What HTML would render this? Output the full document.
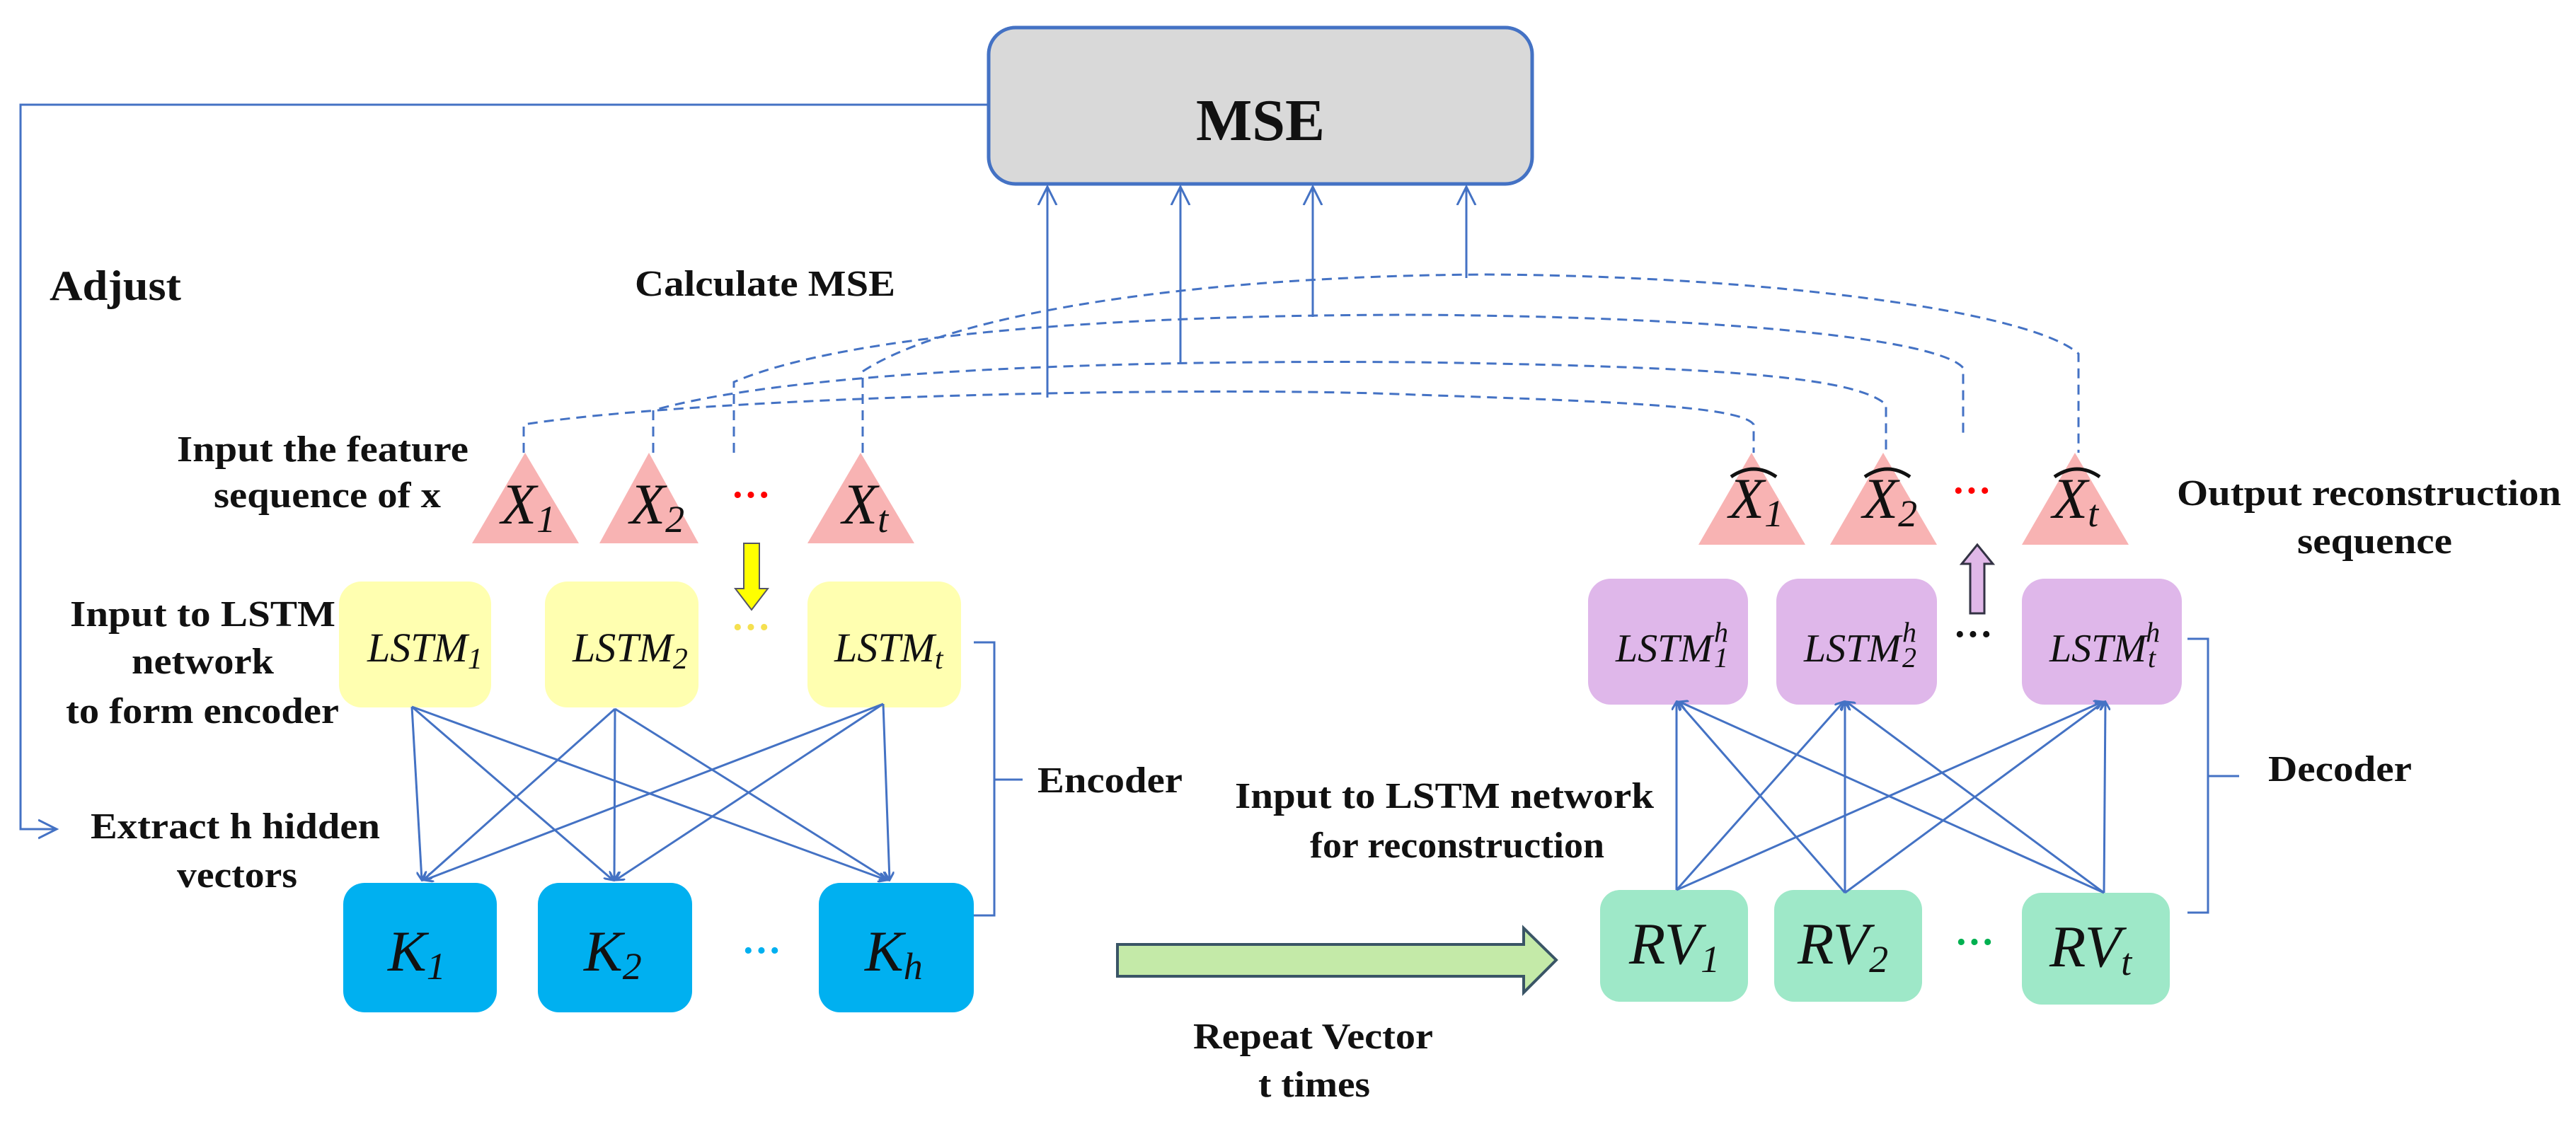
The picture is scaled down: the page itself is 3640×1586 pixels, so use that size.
<!DOCTYPE html>
<html><head><meta charset="utf-8"><style>
html,body{margin:0;padding:0;background:#fff}
svg{display:block}
.t{font-family:"Liberation Serif",serif;font-weight:bold;fill:#111}
.m{font-family:"Liberation Serif",serif;font-style:italic;fill:#111}
</style></head><body>
<svg width="3640" height="1586" viewBox="0 0 3640 1586" xmlns="http://www.w3.org/2000/svg">
<defs>
<marker id="a" markerWidth="14" markerHeight="14" refX="12" refY="7" orient="auto" markerUnits="userSpaceOnUse">
<path d="M0,0 L12,7 L0,14" fill="none" stroke="#4472c4" stroke-width="3"/></marker>
<marker id="b" markerWidth="30" markerHeight="30" refX="26" refY="15" orient="auto" markerUnits="userSpaceOnUse">
<path d="M0,2 L26,15 L0,28" fill="none" stroke="#4472c4" stroke-width="3"/></marker>
</defs>
<rect x="1397" y="39" width="768" height="221" rx="38" fill="#d9d9d9" stroke="#4472c4" stroke-width="5"/>
<text class="t" x="1781" y="198" font-size="84" text-anchor="middle">MSE</text>
<path d="M1397,148 H29 V1172 H80" fill="none" stroke="#4472c4" stroke-width="3" marker-end="url(#b)"/>
<g stroke="#4472c4" stroke-width="3" marker-end="url(#b)">
<line x1="1480" y1="562" x2="1480" y2="264"/>
<line x1="1668" y1="512" x2="1668" y2="264"/>
<line x1="1855" y1="448" x2="1855" y2="264"/>
<line x1="2072" y1="393" x2="2072" y2="264"/>
</g>
<g fill="none" stroke="#4472c4" stroke-width="3" stroke-dasharray="14,9">
<path d="M740,640 V600 C1000,560 1700,545 2000,558 C2300,568 2460,575 2478,600 V640"/>
<path d="M923,640 V580 C1100,530 1500,508 2000,512 C2400,518 2620,530 2665,572 V640"/>
<path d="M1037,640 V540 C1200,470 1600,445 2000,445 C2450,448 2740,480 2774,520 V615"/>
<path d="M1219,640 V525 C1350,440 1700,390 2100,388 C2500,390 2870,440 2937,500 V640"/>
</g>
<g fill="#f8b3b3">
<path d="M742,640 L818,768 H667 Z"/>
<path d="M917,640 L987,768 H847 Z"/>
<path d="M1216,640 L1292,768 H1141 Z"/>
<path d="M2475,640 L2551,770 H2400 Z"/>
<path d="M2661,640 L2737,770 H2586 Z"/>
<path d="M2932,640 L3008,770 H2857 Z"/>
</g>
<g class="m" font-size="82">
<text x="708" y="740">X<tspan font-size="54" dy="12">1</tspan></text>
<text x="890" y="740">X<tspan font-size="54" dy="12">2</tspan></text>
<text x="1190" y="740">X<tspan font-size="54" dy="12">t</tspan></text>
<text x="2443" y="732">X<tspan font-size="54" dy="12">1</tspan></text>
<text x="2632" y="732">X<tspan font-size="54" dy="12">2</tspan></text>
<text x="2900" y="732">X<tspan font-size="54" dy="12">t</tspan></text>
</g>
<g fill="none" stroke="#111" stroke-width="5">
<path d="M2446,674 Q2478,652 2510,674"/>
<path d="M2635,674 Q2667,652 2699,674"/>
<path d="M2903,674 Q2935,652 2967,674"/>
</g>
<g fill="#ff0000" font-size="56" font-weight="bold" font-family="Liberation Serif,serif">
<text x="1033" y="718">···</text>
<text x="2758" y="712">···</text>
</g>
<path d="M1051,768 H1073 V832 H1085 L1062,862 L1039,832 H1051 Z" fill="#ffff00" stroke="#556" stroke-width="2"/>
<path d="M2784,867 H2804 V797 H2816 L2794,770 L2772,797 H2784 Z" fill="#e0b8e8" stroke="#334" stroke-width="3"/>
<g fill="#ffffb0">
<rect x="479" y="822" width="215" height="178" rx="32"/>
<rect x="770" y="822" width="217" height="178" rx="32"/>
<rect x="1141" y="822" width="217" height="178" rx="32"/>
</g>
<g class="m" font-size="58">
<text x="519" y="935">LSTM<tspan font-size="42" dy="10">1</tspan></text>
<text x="809" y="935">LSTM<tspan font-size="42" dy="10">2</tspan></text>
<text x="1179" y="935">LSTM<tspan font-size="42" dy="10">t</tspan></text>
</g>
<text x="1033" y="905" font-size="56" font-weight="bold" fill="#f5e050" font-family="Liberation Serif,serif">···</text>
<g fill="#dfb7ea">
<rect x="2244" y="818" width="226" height="178" rx="32"/>
<rect x="2510" y="818" width="227" height="178" rx="32"/>
<rect x="2857" y="818" width="226" height="178" rx="32"/>
</g>
<g class="m" font-size="56">
<text x="2283" y="935">LSTM<tspan font-size="40" dx="2" dy="8">1</tspan><tspan font-size="40" dx="-20" dy="-36">h</tspan></text>
<text x="2549" y="935">LSTM<tspan font-size="40" dx="2" dy="8">2</tspan><tspan font-size="40" dx="-20" dy="-36">h</tspan></text>
<text x="2896" y="935">LSTM<tspan font-size="40" dx="2" dy="8">t</tspan><tspan font-size="40" dx="-14" dy="-36">h</tspan></text>
</g>
<text x="2760" y="915" font-size="56" font-weight="bold" fill="#111" font-family="Liberation Serif,serif">···</text>
<g fill="#00b0f0">
<rect x="485" y="1248" width="217" height="183" rx="30"/>
<rect x="760" y="1248" width="218" height="183" rx="30"/>
<rect x="1157" y="1248" width="219" height="183" rx="30"/>
</g>
<g class="m" font-size="82">
<text x="548" y="1372">K<tspan font-size="54" dy="12">1</tspan></text>
<text x="825" y="1372">K<tspan font-size="54" dy="12">2</tspan></text>
<text x="1222" y="1372">K<tspan font-size="54" dy="12">h</tspan></text>
</g>
<text x="1048" y="1362" font-size="56" font-weight="bold" fill="#00b0f0" font-family="Liberation Serif,serif">···</text>
<g fill="#9ee8c8">
<rect x="2261" y="1258" width="209" height="158" rx="28"/>
<rect x="2507" y="1258" width="209" height="158" rx="28"/>
<rect x="2857" y="1262" width="209" height="158" rx="28"/>
</g>
<g class="m" font-size="84">
<text x="2302" y="1362">RV<tspan font-size="54" dy="12">1</tspan></text>
<text x="2540" y="1362">RV<tspan font-size="54" dy="12">2</tspan></text>
<text x="2896" y="1366">RV<tspan font-size="54" dy="12">t</tspan></text>
</g>
<text x="2762" y="1350" font-size="56" font-weight="bold" fill="#00b050" font-family="Liberation Serif,serif">···</text>
<g stroke="#4472c4" stroke-width="3" marker-end="url(#a)">
<line x1="582" y1="999" x2="596" y2="1244"/>
<line x1="582" y1="999" x2="866" y2="1244"/>
<line x1="582" y1="999" x2="1253" y2="1244"/>
<line x1="869" y1="1002" x2="598" y2="1244"/>
<line x1="869" y1="1002" x2="868" y2="1244"/>
<line x1="869" y1="1002" x2="1255" y2="1244"/>
<line x1="1248" y1="995" x2="600" y2="1244"/>
<line x1="1248" y1="995" x2="870" y2="1244"/>
<line x1="1248" y1="995" x2="1257" y2="1244"/>
</g>
<g stroke="#4472c4" stroke-width="3" marker-end="url(#a)">
<line x1="2369" y1="1258" x2="2369" y2="992"/>
<line x1="2369" y1="1258" x2="2605" y2="992"/>
<line x1="2369" y1="1258" x2="2971" y2="992"/>
<line x1="2607" y1="1262" x2="2371" y2="992"/>
<line x1="2607" y1="1262" x2="2607" y2="992"/>
<line x1="2607" y1="1262" x2="2973" y2="992"/>
<line x1="2973" y1="1262" x2="2373" y2="992"/>
<line x1="2973" y1="1262" x2="2609" y2="992"/>
<line x1="2973" y1="1262" x2="2975" y2="992"/>
</g>
<path d="M1376,908 H1405 V1294 H1376 M1405,1102 H1445" fill="none" stroke="#4472c4" stroke-width="3"/>
<path d="M3091,903 H3120 V1290 H3091 M3120,1097 H3164" fill="none" stroke="#4472c4" stroke-width="3"/>
<path d="M1579,1335 H2153 V1312 L2199,1357 L2153,1403 V1380 H1579 Z" fill="#c4eaa8" stroke="#3a5566" stroke-width="4"/>
<g class="t" font-size="52">
<text x="70" y="424" font-size="60" textLength="186" lengthAdjust="spacingAndGlyphs">Adjust</text>
<text x="897" y="418" textLength="368" lengthAdjust="spacingAndGlyphs">Calculate MSE</text>
<text x="250" y="652" textLength="412" lengthAdjust="spacingAndGlyphs">Input the feature</text>
<text x="302" y="717" textLength="321" lengthAdjust="spacingAndGlyphs">sequence of x</text>
<text x="99" y="885" textLength="375" lengthAdjust="spacingAndGlyphs">Input to LSTM</text>
<text x="186" y="952" textLength="201" lengthAdjust="spacingAndGlyphs">network</text>
<text x="93" y="1022" textLength="386" lengthAdjust="spacingAndGlyphs">to form encoder</text>
<text x="128" y="1185" textLength="409" lengthAdjust="spacingAndGlyphs">Extract h hidden</text>
<text x="250" y="1254" textLength="170" lengthAdjust="spacingAndGlyphs">vectors</text>
<text x="1466" y="1120" textLength="205" lengthAdjust="spacingAndGlyphs">Encoder</text>
<text x="1745" y="1142" textLength="592" lengthAdjust="spacingAndGlyphs">Input to LSTM network</text>
<text x="1851" y="1212" textLength="416" lengthAdjust="spacingAndGlyphs">for reconstruction</text>
<text x="1686" y="1482" textLength="339" lengthAdjust="spacingAndGlyphs">Repeat Vector</text>
<text x="1778" y="1550" textLength="158" lengthAdjust="spacingAndGlyphs">t times</text>
<text x="3076" y="714" textLength="543" lengthAdjust="spacingAndGlyphs">Output reconstruction</text>
<text x="3246" y="782" textLength="219" lengthAdjust="spacingAndGlyphs">sequence</text>
<text x="3205" y="1104" textLength="203" lengthAdjust="spacingAndGlyphs">Decoder</text>
</g>
</svg>
</body></html>
